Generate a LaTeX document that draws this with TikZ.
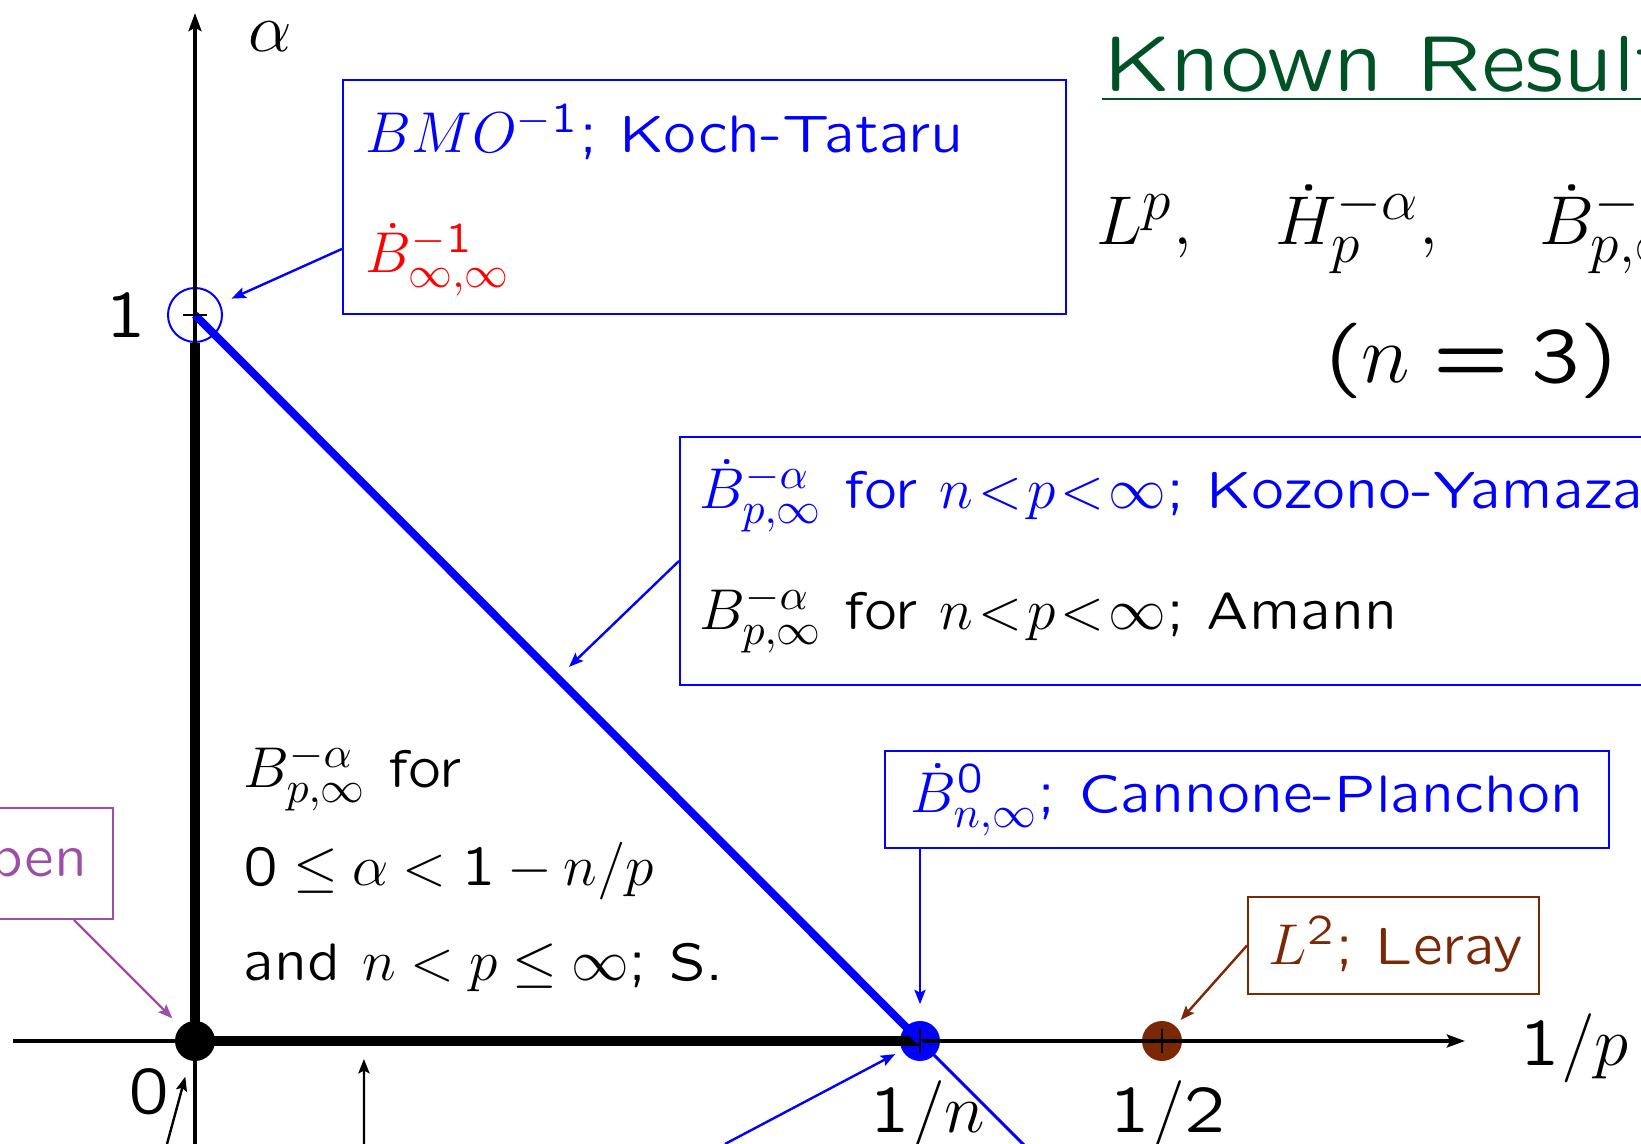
\documentclass[tikz,border=0pt]{standalone}
\usetikzlibrary{arrows.meta,calc,fit}
\DeclareFontFamily{OT1}{slss}{\hyphenchar\font=-1}
\DeclareFontShape{OT1}{slss}{m}{n}{<-> lcmss8}{}
\DeclareSymbolFont{operators}{OT1}{slss}{m}{n}
\DeclareMathSizes{13.2}{14}{10.5}{8}
\DeclareMathSizes{19.9}{18.25}{14}{10}
\newcommand\slfont[1]{\fontencoding{OT1}\fontfamily{slss}\fontseries{m}\fontshape{n}\fontsize{#1}{#1}\selectfont}
\definecolor{kgreen}{RGB}{0,82,38}
\definecolor{kbrown}{RGB}{122,40,5}
\definecolor{kpurple}{RGB}{155,80,165}
\tikzset{
  txt/.style={anchor=base west, inner sep=0pt, font=\slfont{13.2}},
  regtxt/.style={txt, execute at begin node={\thickmuskip=4.5mu plus 2mu\medmuskip=3.5mu plus 1mu}},
  axlab/.style={inner sep=0pt, font=\slfont{16.5}},
  bigtxt/.style={anchor=base west, inner sep=0pt, font=\slfont{19.9}},
  box/.style={draw, line width=0.5pt, inner sep=0pt},
  ptdot/.style={circle, inner sep=0pt, minimum size=10pt},
  axis/.style={line width=1pt, -{Stealth[length=4.5pt,width=3.2pt,inset=0.8pt]}},
  thickax/.style={line width=2.5pt},
  ptr/.style={line width=0.6pt, -{Stealth[length=3.6pt,width=2.8pt,inset=0.7pt]}},
  tick/.style={line width=0.6pt},
}
\newcommand\rl{\mkern1.5mu{<}\mkern1.5mu}
\begin{document}
\begin{tikzpicture}[x=0.25pt,y=-0.25pt]
\useasboundingbox (0,0) rectangle (1641,1144);
% points
\node[ptdot, fill=black] (O) at (195,1041) {};
\node[ptdot, fill=blue] (Pn) at (920,1041) {};
\node[ptdot, fill=kbrown] (Ph) at (1162,1041) {};
\node[circle, draw=blue, line width=0.5pt, minimum size=13.5pt, inner sep=0pt] (P1) at (195,315) {};
\coordinate (xl) at (13,1041);
\coordinate (xr) at (1465,1041);
\coordinate (yb) at (195,1150);
\coordinate (yt) at (195,13);
% axes
\draw[axis] (xl) -- (xr);
\draw[axis] (yb) -- (yt);
\draw[thickax] (O.center) -- (Pn.center);
\draw[thickax] (O.center) -- (P1.south);
\draw[blue, line width=2pt] (P1.center) -- (Pn.center);
\coordinate (dext) at (1032,1153);
\draw[blue, line width=0.75pt] (Pn.center) -- (dext);
% ticks
\draw[tick] ($(P1.center)+(-12,0)$) -- ($(P1.center)+(12,0)$);
\draw[tick] ($(Pn.center)+(0,-12)$) -- ($(Pn.center)+(0,12)$);
\draw[tick] ($(Ph.center)+(0,-12)$) -- ($(Ph.center)+(0,12)$);
% axis labels
\node[axlab, anchor=base west] (la) at (248,52) {$\alpha$};
\node[axlab, anchor=base east] (l1) at (148,338) {$1$};
\node[axlab, anchor=base east] (l0) at (171,1114) {$0$};
\node[axlab, anchor=base west] (ln) at (869,1133) {$1/n$};
\node[axlab, anchor=base west] (lh) at (1109,1133) {$1/2$};
\node[axlab, anchor=base west] (lp) at (1519,1066) {$1/p$};
% Koch-Tataru
\node[box, draw=blue, fit={(343,80) (1066,314)}] (kt) {};
\node[txt, text=blue] (kt1) at (365,153) {$BMO^{-1}$; Koch-Tataru};
\node[txt, text=red] (kt2) at (365,273) {$\dot B^{-1}_{\infty,\infty}$};
\draw[ptr, blue, shorten >=10pt] ($(kt.south west)!0.28!(kt.north west)$) -- (P1.center);
% Kozono-Yamazaki / Amann
\node[box, draw=blue, fit={(680,437) (1720,685)}] (kz) {};
\node[txt, text=blue] (kz1) at (699,509) {$\dot B^{-\alpha}_{p,\infty}$ for $n\rl p\rl\infty$; Kozono-Yamazaki};
\node[txt] (kz2) at (699,630) {$B^{-\alpha}_{p,\infty}$ for $n\rl p\rl\infty$; Amann};
\draw[ptr, blue, shorten >=4pt] (kz.west) -- ($(P1.center)!0.5!(Pn.center)$);
% Cannone-Planchon
\node[box, draw=blue, fit={(885,751) (1609,848)}] (cp) {};
\node[txt, text=blue] (cp1) at (910,813) {$\dot B^{0}_{n,\infty}$; Cannone-Planchon};
\draw[ptr, blue, shorten >=4pt] (cp.south -| Pn.north) -- (Pn.north);
% Leray
\node[box, draw=kbrown, fit={(1248,897) (1539,994)}] (lr) {};
\node[txt, text=kbrown] (lr1) at (1268,965) {$L^2$; Leray};
\draw[ptr, kbrown, shorten >=7pt] (lr.west) -- (Ph.center);
% open
\node[box, draw=kpurple, fit={(-80,808) (113,919)}] (op) {};
\node[txt, anchor=base east, text=kpurple] (op1) at (88,877) {open};
\draw[ptr, kpurple, shorten >=8pt] ($(op.south east)+(-40,0)$) -- (O.center);
% region text
\node[regtxt] (r1) at (243,788) {$B^{-\alpha}_{p,\infty}$ for};
\node[regtxt] (r2) at (243,886) {$0\le\alpha<1-n/p$};
\node[regtxt] (r3) at (243,981) {and $n<p\le\infty$; S.};
% arrows from below
\coordinate (b1) at (167,1144);
\draw[ptr, shorten >=9.25pt] (b1) -- (O.center);
\coordinate (b2) at (364,1144);
\draw[ptr, shorten >=4.5pt] (b2) -- ($(O.center)!0.233!(Pn.center)$);
\coordinate (b3) at (725,1144);
\draw[ptr, blue, shorten >=7pt] (b3) -- (Pn.center);
% title and formula
\node[bigtxt, text=kgreen] (title) at (1103,92) {Known Results};
\draw[kgreen, line width=0.5pt] ($(title.base west)+(-1,7)$) -- ($(title.base east)+(0,7)$);
\node[bigtxt] (sp) at (1096,245) {$L^p,\hspace{0.72em}\dot H^{-\alpha}_p,\hspace{0.9em}\dot B^{-\alpha}_{p,\infty}$};
\node[bigtxt, anchor=base east, font=\slfont{19.4}] (n3) at (1619,383) {$(n=3)$};
\end{tikzpicture}
\end{document}
